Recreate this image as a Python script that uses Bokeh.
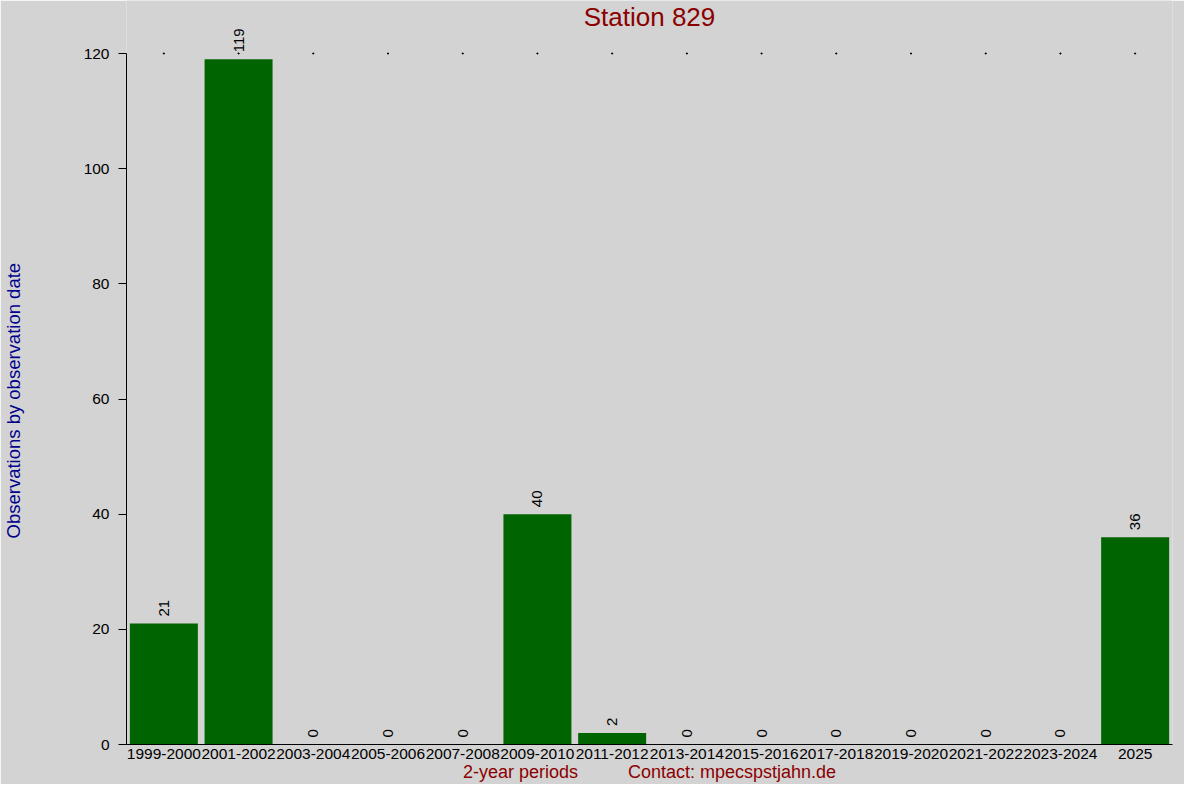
import math
from bokeh.plotting import figure
from bokeh.models import FactorRange, Range1d, Label, ColumnDataSource, Title
from bokeh.core.properties import value
from bokeh.embed import file_html
from bokeh.resources import INLINE

periods = ["1999-2000", "2001-2002", "2003-2004", "2005-2006", "2007-2008",
           "2009-2010", "2011-2012", "2013-2014", "2015-2016", "2017-2018",
           "2019-2020", "2021-2022", "2023-2024", "2025"]
counts = [21, 119, 0, 0, 0, 40, 2, 0, 0, 0, 0, 0, 0, 36]
y_ticks = [0, 20, 40, 60, 80, 100, 120]

title_text = "Station 829"
y_label = "Observations by observation date"
x_label = "2-year periods"
contact_text = "Contact: mpecspstjahn.de"

BG = "#d3d3d3"
FONT = "Liberation Sans"
Y0 = 744            # screen row of value 0
Y120 = 53           # screen row of value 120
ppu = (Y0 - Y120) / 120.0
XL, XR = 126, 1172  # frame left / right

p = figure(
    x_range=FactorRange(*periods),
    y_range=Range1d(0, 120 + Y120 / ppu),
    width=1184, height=784,
    output_backend="svg", toolbar_location=None,
    min_border_left=XL, min_border_right=1184 - XR,
    min_border_top=0, min_border_bottom=784 - Y0,
    background_fill_color=BG, border_fill_color=BG,
    outline_line_color=None,
)
p.xgrid.visible = False
p.ygrid.visible = False

src = ColumnDataSource(dict(x=periods, top=counts, label=[str(c) for c in counts]))
p.vbar(x="x", top="top", width=0.91, source=src, fill_color="#006400", line_color=None)

p.text(x="x", y="top", text="label", source=src, angle=math.pi / 2,
       text_align="left", text_baseline="middle", y_offset=-7,
       text_font=value(FONT), text_font_size="15px", text_color="black")

# tiny marks at the top of the scale
p.scatter(x=periods, y=[max(y_ticks)] * len(periods), size=1, marker="square",
          color="black")

# y axis
ya = p.yaxis[0]
ya.bounds = (0, max(y_ticks))
ya.ticker = y_ticks
ya.minor_tick_line_color = None
ya.major_tick_out = 8
ya.major_tick_in = 0
ya.major_label_standoff = 9
ya.major_label_text_font = FONT
ya.major_label_text_font_size = "15.5px"
ya.major_label_text_color = "black"
ya.axis_line_color = "black"
ya.major_tick_line_color = "black"
# blank spacer label: pushes the side title out to the left edge
ya.axis_label = "\u00a0"
ya.axis_label_standoff = 34
ya.axis_label_text_font = FONT
ya.axis_label_text_font_size = "18px"

# x axis
xa = p.xaxis[0]
xa.major_tick_out = 0
xa.major_tick_in = 0
xa.major_label_standoff = 4
xa.major_label_text_font = FONT
xa.major_label_text_font_size = "15.5px"
xa.major_label_text_color = "black"
xa.axis_line_color = "black"
xa.minor_tick_line_color = None
xa.axis_label = x_label + "\u00a0" * 10 + contact_text
xa.axis_label_standoff = 0
xa.axis_label_text_font = FONT
xa.axis_label_text_font_size = "18px"
xa.axis_label_text_font_style = "normal"
xa.axis_label_text_color = "#8B0000"

# title (inside the frame area, top)
p.add_layout(Label(x=len(periods) / 2, y=(Y0 - 16) / ppu, text=title_text,
                   text_align="center", text_baseline="middle",
                   text_font=FONT, text_font_size="26px", text_color="#8B0000"))

# y label as a side title
yt = Title(text=y_label, align="left", offset=Y0 - 538,
           text_font=FONT, text_font_size="18.5px", text_font_style="normal",
           text_color="#00008B", standoff=0)
p.add_layout(yt, "left")

html = file_html(p, INLINE)
html = html.replace("<body>", '<body style="background-color:#d3d3d3;">', 1)
open("out.html", "w").write(html)
